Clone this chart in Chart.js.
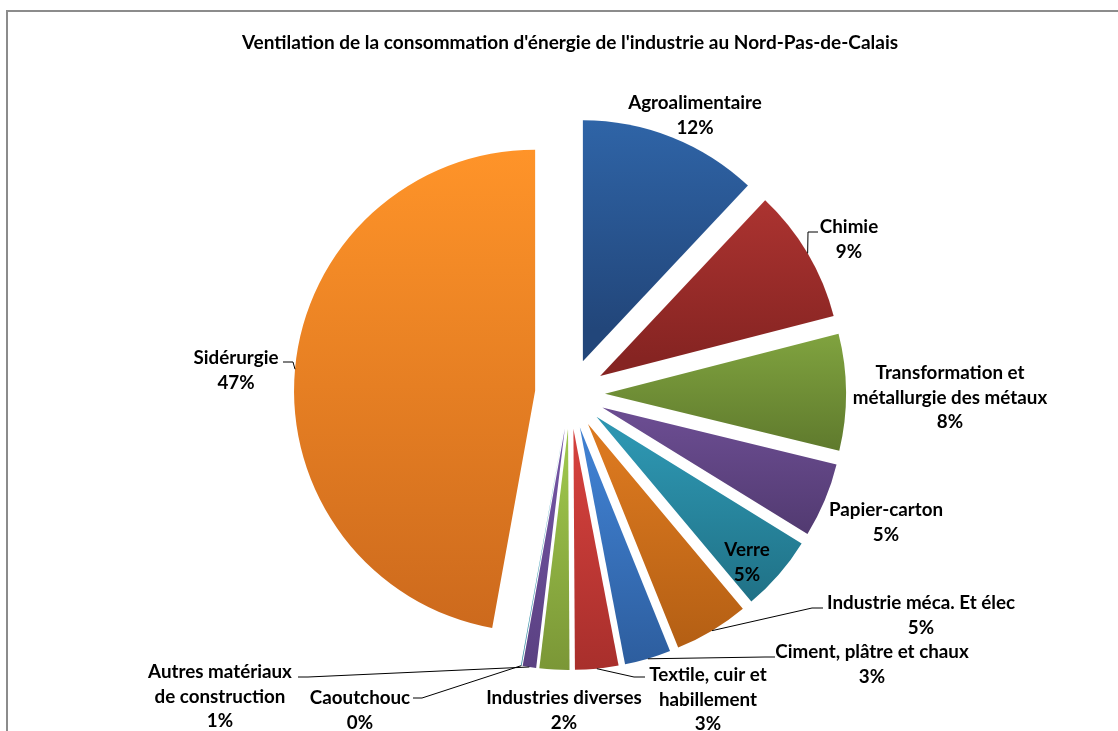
<!DOCTYPE html>
<html><head><meta charset="utf-8">
<script src="https://cdn.jsdelivr.net/npm/chart.js@4.4.1/dist/chart.umd.min.js"></script>
<style>
html,body{margin:0;padding:0;background:#fff;}
#wrap{position:relative;width:1118px;height:731px;overflow:hidden;background:#fff;}
#frame{position:absolute;left:6px;top:10px;width:1200px;height:800px;border:2px solid #8c8c8c;box-sizing:border-box;pointer-events:none;}
canvas{position:absolute;left:0;top:0;}
</style></head><body>
<div id="wrap"><canvas id="c" width="1118" height="731"></canvas><div id="frame"></div></div>
<script>
// ---- data ----
const categories = ["Agroalimentaire","Chimie","Transformation et métallurgie des métaux","Papier-carton","Verre","Industrie méca. Et élec","Ciment, plâtre et chaux","Textile, cuir et habillement","Industries diverses","Autres matériaux de construction","Caoutchouc","Sidérurgie"];
const shares = [12.0, 9.0, 7.8, 5.0, 5.1, 5.0, 3.1, 2.9, 2.0, 0.9, 0.05, 47.15];
const labelLines = [["Agroalimentaire"],["Chimie"],["Transformation et","métallurgie des métaux"],["Papier-carton"],["Verre"],["Industrie méca. Et élec"],["Ciment, plâtre et chaux"],["Textile, cuir et","habillement"],["Industries diverses"],["Autres matériaux","de construction"],["Caoutchouc"],["Sidérurgie"]];
const chartTitle = "Ventilation de la consommation d'énergie de l'industrie au Nord-Pas-de-Calais";

// ---- style ----
const topColors = ["#3169ae","#b03532","#80a33f","#6a4c90","#2d95b0","#da781f","#3f7fcf","#d2403c","#9cc34b","#7254a2","#4bacc6","#ff9429"];
const bottomColors = ["#22467a","#862422","#5f7a2d","#4f386d","#1e6c80","#ae5b12","#2a5896","#a12c29","#758f33","#563d7c","#31859c","#cd6a1d"];
const EXPLODE = 35;
const FONT = "bold 18.8px Lato";
const LINE_H = 24.5;
const labelLayout = [
  {x:695, y:103},
  {x:849, y:227, lead:{x:818, y:232, ex:808}},
  {x:950, y:373},
  {x:886, y:510},
  {x:747, y:550},
  {x:921, y:603, lead:{x:823, y:608, ex:812}},
  {x:872, y:652, lead:{x:775, y:657, ex:765}},
  {x:708, y:675, lead:{x:645, y:677, ex:634}},
  {x:564, y:698},
  {x:220, y:672, lead:{x:298, y:677, ex:308}},
  {x:360, y:698, lead:{x:413, y:698, ex:422}},
  {x:236, y:358, lead:{x:283, y:362, ex:293}}
];

const total = shares.reduce((a,b)=>a+b,0);

const explodePlugin = {
  id: 'explode',
  beforeDatasetsDraw(chart) {
    const meta = chart.getDatasetMeta(0);
    meta.data.forEach((arc, i) => {
      const mid = (arc.startAngle + arc.endAngle) / 2;
      const dy = Math.sin(mid) * EXPLODE;
      const ys = [arc.y + dy];
      const n = 48;
      for (let k = 0; k <= n; k++) {
        const a = arc.startAngle + (arc.endAngle - arc.startAngle) * k / n;
        ys.push(arc.y + dy + Math.sin(a) * arc.outerRadius);
      }
      const y0 = Math.min(...ys), y1 = Math.max(...ys);
      const g = chart.ctx.createLinearGradient(0, y0, 0, y1 + 0.01);
      g.addColorStop(0, topColors[i]);
      g.addColorStop(1, bottomColors[i]);
      arc.options.backgroundColor = g;
      if (!arc.__exploded) {
        arc.__exploded = true;
        const protoDraw = Object.getPrototypeOf(arc).draw;
        arc.draw = function(ctx, area) {
          const m = (this.startAngle + this.endAngle) / 2;
          ctx.save();
          ctx.translate(Math.cos(m) * EXPLODE, Math.sin(m) * EXPLODE);
          protoDraw.call(this, ctx, area);
          ctx.restore();
        };
      }
    });
  },
  afterDatasetsDraw(chart) {
    const ctx = chart.ctx;
    const meta = chart.getDatasetMeta(0);
    ctx.save();
    ctx.font = FONT;
    ctx.fillStyle = "#000";
    ctx.textAlign = "center";
    ctx.textBaseline = "middle";
    ctx.strokeStyle = "#000";
    ctx.lineWidth = 1;
    meta.data.forEach((arc, i) => {
      const L = labelLayout[i];
      const lines = labelLines[i].concat([Math.round(shares[i] / total * 100) + "%"]);
      lines.forEach((t, k) => ctx.fillText(t, L.x, L.y + k * LINE_H));
      if (L.lead) {
        const m = (arc.startAngle + arc.endAngle) / 2;
        const r = arc.outerRadius + EXPLODE;
        const px = arc.x + Math.cos(m) * r, py = arc.y + Math.sin(m) * r;
        ctx.beginPath();
        ctx.moveTo(L.lead.x, L.lead.y);
        ctx.lineTo(L.lead.ex, L.lead.y);
        ctx.lineTo(px, py);
        ctx.stroke();
      }
    });
    ctx.restore();
  }
};

new Chart(document.getElementById('c'), {
  type: 'pie',
  data: {
    labels: categories,
    datasets: [{
      data: shares,
      backgroundColor: (c) => topColors[c.dataIndex],
      borderWidth: 0,
      clip: false
    }]
  },
  options: {
    responsive: false,
    animation: false,
    rotation: 0,
    layout: { padding: { left: 22, right: 0, top: 0, bottom: 96 } },
    plugins: {
      legend: { display: false },
      tooltip: { enabled: false },
      title: {
        display: true,
        text: chartTitle,
        color: "#000",
        font: { family: "Lato", size: 19, weight: "bold", lineHeight: 1.2 },
        padding: { top: 31, bottom: 99 }
      }
    }
  },
  plugins: [explodePlugin]
});
</script>
</body></html>
